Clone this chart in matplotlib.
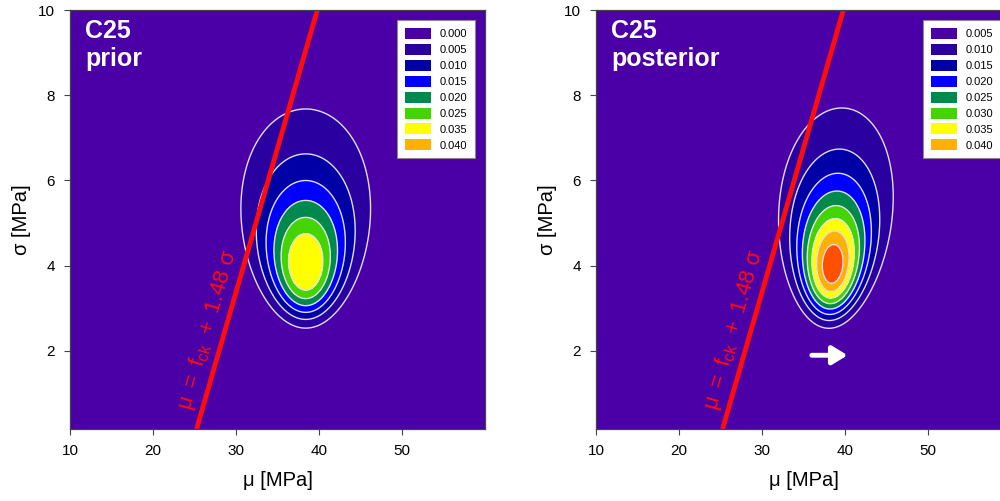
import matplotlib

matplotlib.use("Agg")
import matplotlib.pyplot as plt  # noqa: E402
import numpy as np  # noqa: E402
from matplotlib.patches import Patch  # noqa: E402

# colour bins shared by both panels
PURPLE = "#4a00a6"
INDIGO = "#2a00a0"
DKBLUE = "#0000a6"
BLUE = "#0000ff"
TEAL = "#00894c"
GREEN = "#44d400"
YELLOW = "#ffff00"
ORANGE = "#ffb000"
RED = "#ff5000"

# prior panel
prior_levels = [0.0, 0.005, 0.010, 0.015, 0.020, 0.025, 0.030]
prior_fill = [PURPLE, INDIGO, DKBLUE, BLUE, TEAL, GREEN, YELLOW]
prior_legend_labels = ["0.000", "0.005", "0.010", "0.015", "0.020", "0.025", "0.035", "0.040"]
prior_legend_colors = [PURPLE, INDIGO, DKBLUE, BLUE, TEAL, GREEN, YELLOW, ORANGE]
# mode of mu, mode of sigma, shape, kappa, peak density, tilt of mu with sigma
prior_params = (38.4, 4.0, 6.86, 1.4, 0.036, 0.0)

# posterior panel
post_levels = [0.0, 0.005, 0.010, 0.015, 0.020, 0.025, 0.030, 0.035, 0.040]
post_fill = [PURPLE, INDIGO, DKBLUE, BLUE, TEAL, GREEN, YELLOW, ORANGE, RED]
post_legend_labels = ["0.005", "0.010", "0.015", "0.020", "0.025", "0.030", "0.035", "0.040"]
post_legend_colors = [PURPLE, INDIGO, DKBLUE, BLUE, TEAL, GREEN, YELLOW, ORANGE]
post_params = (38.5, 4.0, 7.5, 2.0, 0.044, 0.3)

f_ck = 25.0
k_factor = 1.48
arrow_mu = [36.0, 40.3]
arrow_sigma = 1.9

x_ticks = [10, 20, 30, 40, 50]
y_ticks = [2, 4, 6, 8, 10]
xlim = (10, 60)
ylim = (0.17, 10)

plt.rcParams["font.family"] = ["Liberation Sans", "DejaVu Sans"]
plt.rcParams["mathtext.fontset"] = "custom"
plt.rcParams["mathtext.rm"] = "Liberation Sans"
plt.rcParams["mathtext.it"] = "Liberation Sans"
plt.rcParams["mathtext.bf"] = "Liberation Sans:bold"


def density(mu, sig, params):
    m0, s0, a, kappa, peak, tilt = params
    m = m0 + tilt * (sig - s0)
    logf = -a * np.log(sig) - (a * s0**2 + kappa * (mu - m) ** 2) / (2 * sig**2)
    return peak * np.exp(logf - logf.max())


def draw_panel(ax, params, levels, fill, leg_labels, leg_colors, title):
    mu = np.linspace(xlim[0], xlim[1], 500)
    sig = np.linspace(ylim[0], ylim[1], 500)
    M, S = np.meshgrid(mu, sig)
    Z = density(M, S, params)
    ax.set_facecolor(PURPLE)
    ax.contourf(M, S, Z, levels=levels + [1.0], colors=fill)
    ax.contour(M, S, Z, levels=levels[1:], colors="#e2def4", linewidths=1.0)

    s_line = np.array(ylim)
    ax.plot(f_ck + k_factor * s_line, s_line, color="#ff0c0c", lw=3.5, solid_capstyle="butt")

    ax.set_xlim(*xlim)
    ax.set_ylim(*ylim)
    ax.set_xticks(x_ticks)
    ax.set_yticks(y_ticks)
    ax.tick_params(direction="out", length=4, width=0.8, labelsize=11, pad=7, color="#444444")
    for sp in ax.spines.values():
        sp.set_color("#444444")
        sp.set_linewidth(0.9)
    ax.set_xlabel("μ [MPa]", fontsize=14.5, labelpad=9)
    ax.set_ylabel("σ [MPa]", fontsize=14.5, labelpad=5)

    # label along the line, angle taken from display space
    p0 = ax.transData.transform((f_ck + k_factor * 1.0, 1.0))
    p1 = ax.transData.transform((f_ck + k_factor * 5.0, 5.0))
    ang = np.degrees(np.arctan2(p1[1] - p0[1], p1[0] - p0[0]))
    ax.text(26.6, 2.5, r"$\mathrm{μ\ =\ f_{ck}\ +\ 1.48\ σ}$", color="#ff0c0c", fontsize=16,
            rotation=ang, rotation_mode="anchor", ha="center", va="center")

    ax.text(0.036, 0.978, title, transform=ax.transAxes, color="white", fontsize=18,
            fontweight="bold", ha="left", va="top", linespacing=1.2)

    handles = [Patch(facecolor=c, edgecolor="none") for c in leg_colors]
    leg = ax.legend(handles, leg_labels, loc="upper right", fontsize=8, frameon=True,
                    fancybox=False, framealpha=1.0, handlelength=2.35, handleheight=1.15,
                    labelspacing=0.42, borderaxespad=0.9, handletextpad=0.8,
                    borderpad=0.7)
    leg.get_frame().set_edgecolor("#888888")
    leg.get_frame().set_linewidth(0.8)


def main() -> None:
    fig = plt.figure(figsize=(10, 5.01), dpi=100)
    bottom = 72 / 501
    height = 419 / 501
    ax1 = fig.add_axes([70 / 1000, bottom, 415 / 1000, height])
    ax2 = fig.add_axes([596 / 1000, bottom, 415 / 1000, height])

    draw_panel(ax1, prior_params, prior_levels, prior_fill,
               prior_legend_labels, prior_legend_colors, "C25\nprior")
    draw_panel(ax2, post_params, post_levels, post_fill,
               post_legend_labels, post_legend_colors, "C25\nposterior")

    ax2.annotate("", xy=(arrow_mu[1], arrow_sigma), xytext=(arrow_mu[0], arrow_sigma),
                 arrowprops=dict(arrowstyle="-|>,head_length=0.6,head_width=0.37",
                                 mutation_scale=15, color="white", lw=3.5,
                                 shrinkA=0, shrinkB=0))

    fig.savefig("out.png", dpi=100)
    plt.close(fig)


if __name__ == "__main__":
    main()
